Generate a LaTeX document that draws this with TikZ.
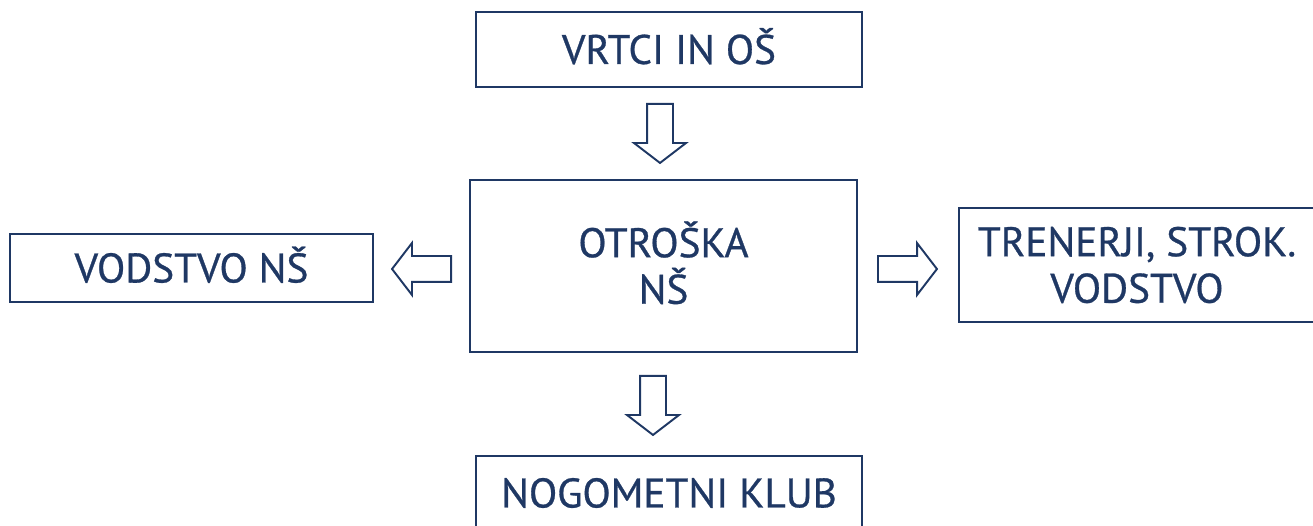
\documentclass[tikz,border=0pt]{standalone}
\usepackage{fontspec}
\setmainfont{PT Sans}
\newfontfamily\boxfont{PT Sans}[FakeBold=0.7]
\usetikzlibrary{shapes.arrows}
\definecolor{navy}{RGB}{31,56,100}

\begin{document}
\begin{tikzpicture}[x=0.02cm,y=-0.02cm,
  box/.style={draw=navy,line width=1.1pt,text=navy,align=center,inner sep=0pt,font=\boxfont\fontsize{23.5}{26.5}\selectfont},
  blockarrow/.style={single arrow,draw=navy,line width=1.1pt,fill=white,inner sep=0pt,inner ysep=0.24cm,minimum height=1.18cm,single arrow head extend=0.26cm,single arrow tip angle=105,anchor=tail}]
  \useasboundingbox (0,0) rectangle (1313,526);
  \node[box,minimum width=7.72cm,minimum height=1.5cm] (vrtci) at (669,49.5) {VRTCI IN O\smash{Š}};
  \node[box,minimum width=7.74cm,minimum height=3.44cm] (otroska) at (663.5,266) {OTRO\smash{Š}KA\\N\smash{Š}};
  \node[box,minimum width=7.26cm,minimum height=1.36cm] (vodstvo) at (191.5,268) {VODSTVO N\smash{Š}};
  \node[box,minimum width=7.14cm,minimum height=2.28cm] (trenerji) at (1137,265) {TRENERJI, STROK.\\VODSTVO};
  \node[box,minimum width=7.72cm,minimum height=1.48cm] (klub) at (669,493) {NOGOMETNI KLUB};

  \node[blockarrow,rotate=-90] (a1) at (660,103) {};
  \node[blockarrow,rotate=-90] (a2) at (653,375) {};
  \node[blockarrow,rotate=180] (a3) at (452,269) {};
  \node[blockarrow] (a4) at (877,269) {};
\end{tikzpicture}
\end{document}
